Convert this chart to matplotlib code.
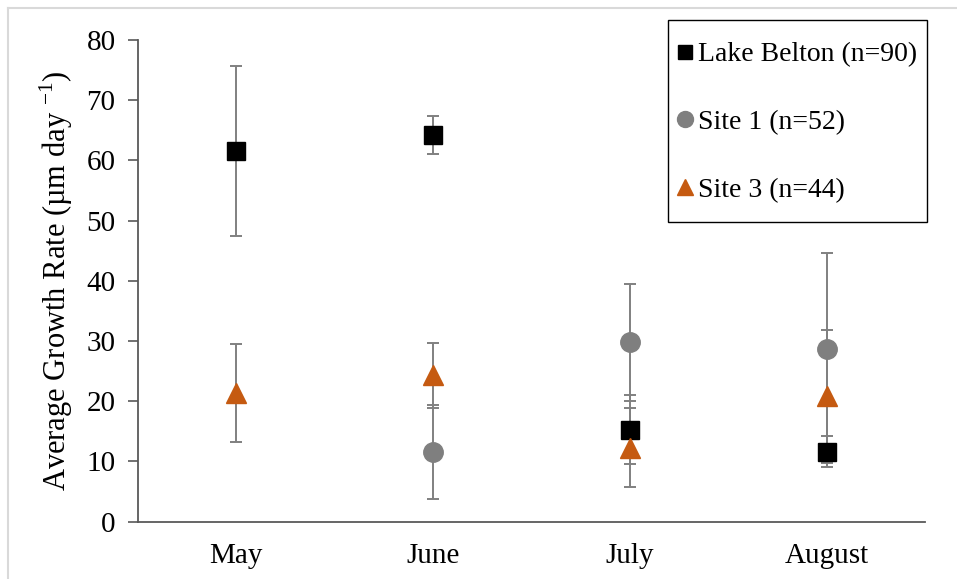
import matplotlib.pyplot as plt
import numpy as np
from matplotlib.lines import Line2D
from matplotlib.patches import Rectangle

months = ["May", "June", "July", "August"]

# Lake Belton (n=90)
belton_mean = [61.6, 64.2, 15.3, 11.6]
belton_err = [14.1, 3.1, 5.8, 2.6]

# Site 1 (n=52) - no sample in May
site1_mean = [np.nan, 11.5, 29.8, 28.7]
site1_err = [np.nan, 7.8, 9.7, 16.0]

# Site 3 (n=44)
site3_mean = [21.4, 24.3, 12.3, 20.8]
site3_err = [8.1, 5.4, 6.6, 11.0]

series = [
    ("Lake Belton (n=90)", belton_mean, belton_err, "s", "#000000", 13),
    ("Site 1 (n=52)", site1_mean, site1_err, "o", "#7f7f7f", 14),
    ("Site 3 (n=44)", site3_mean, site3_err, "^", "#c55a11", 14),
]

plt.rcParams["font.family"] = ["Liberation Serif", "DejaVu Serif"]

W, H = 957, 579
fig = plt.figure(figsize=(W / 100, H / 100), dpi=100)
ax = fig.add_axes([0.144, 0.099, 0.823, 0.832])

x = np.arange(len(months))
for label, mean, err, marker, color, size in series:
    ax.errorbar(
        x, mean, yerr=err,
        fmt=marker, color=color, markersize=size,
        ecolor="#808080", elinewidth=1.4, capsize=4.5, capthick=1.4,
        zorder=3,
    )

ax.set_xlim(-0.5, len(months) - 0.5)
ax.set_ylim(0, 80)
ax.set_yticks(range(0, 81, 10))
ax.set_xticks(x)
ax.set_xticklabels(months)
ax.tick_params(axis="x", length=0, pad=15, labelsize=21)
ax.tick_params(axis="y", length=7, width=1.2, color="#595959", pad=9, labelsize=21)
for side in ["top", "right"]:
    ax.spines[side].set_visible(False)
for side in ["left", "bottom"]:
    ax.spines[side].set_color("#595959")
    ax.spines[side].set_linewidth(1.3)

ax.set_ylabel("Average Growth Rate (\u00b5m day $^{\\mathregular{-1}}$)", fontsize=22, labelpad=8)

# legend: entries without frame, box drawn separately
handles = [
    Line2D([], [], linestyle="none", marker=m, color=c, markersize=s * 0.82)
    for _, _, _, m, c, s in series
]
fig.legend(
    handles, [s[0] for s in series],
    loc="upper left", bbox_to_anchor=(676 / W, 1 - 42 / H),
    fontsize=20, frameon=False,
    borderpad=0, labelspacing=1.52, handlelength=0.65, handletextpad=0.15,
    borderaxespad=0,
)
fig.add_artist(Rectangle((668 / W, 1 - 222 / H), 259 / W, 202 / H,
                         transform=fig.transFigure, fill=False,
                         edgecolor="#000000", lw=1.0))

# thin light frame of the original image (left and top edges)
fig.add_artist(Line2D([8 / W, 8 / W], [0, 1 - 8 / H], color="#d9d9d9", lw=1.5))
fig.add_artist(Line2D([8 / W, 1], [1 - 8 / H, 1 - 8 / H], color="#d9d9d9", lw=1.5))

fig.savefig("out.png", dpi=100)
